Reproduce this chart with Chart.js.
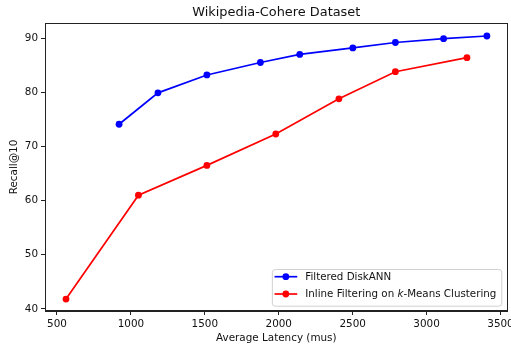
<!DOCTYPE html>
<html>
<head>
<meta charset="utf-8">
<script src="https://cdn.jsdelivr.net/npm/chart.js@4/dist/chart.umd.min.js"></script>
<style>
  html, body { margin: 0; padding: 0; background: #fff; }
  #wrap { width: 511px; height: 345px; }
</style>
</head>
<body>
<div id="wrap"><canvas id="c" width="511" height="345"></canvas></div>
<script>
const chartTitle = 'Wikipedia-Cohere Dataset';
const xTitle = 'Average Latency (mus)';
const yTitle = 'Recall@10';
const seriesNames = ['Filtered DiskANN', 'Inline Filtering on k-Means Clustering'];
const latencyDiskANN = [920, 1183, 1514, 1876, 2142, 2501, 2789, 3115, 3408];
const recallDiskANN = [74.1, 79.9, 83.2, 85.5, 87.0, 88.2, 89.2, 89.9, 90.4];
const latencyKMeans = [561, 1051, 1514, 1980, 2407, 2789, 3273];
const recallKMeans = [41.8, 61.0, 66.5, 72.3, 78.8, 83.8, 86.4];
const xTicks = [500, 1000, 1500, 2000, 2500, 3000, 3500];
const yTicks = [40, 50, 60, 70, 80, 90];

const FONT = 'DejaVu Sans';
const toPts = (xs, ys) => xs.map((x, i) => ({ x: x, y: ys[i] }));

const framePlugin = {
  id: 'frame',
  afterDraw(chart) {
    const { ctx, chartArea: a } = chart;
    ctx.save();
    ctx.strokeStyle = '#222';
    ctx.lineWidth = 1;
    ctx.strokeRect(Math.round(a.left) + 0.5, Math.round(a.top) + 0.5,
                   Math.round(a.right - a.left) - 1, Math.round(a.bottom - a.top) - 1);
    ctx.fillStyle = '#111';
    ctx.font = '12.9px "' + FONT + '"';
    ctx.textAlign = 'center';
    ctx.textBaseline = 'middle';
    ctx.fillText(chartTitle, (a.left + a.right) / 2, 12.5);
    ctx.restore();
  }
};

const legendPlugin = {
  id: 'innerLegend',
  afterDraw(chart) {
    const { ctx, chartArea: a } = chart;
    const parts = [
      [{ t: 'Filtered DiskANN' }],
      [{ t: 'Inline Filtering on ' }, { t: 'k', i: true }, { t: '-Means Clustering' }]
    ];
    ctx.save();
    const fn = '10.3px "' + FONT + '"';
    const fi = 'italic 10.3px "' + FONT + '"';
    let maxW = 0;
    parts.forEach(p => {
      let w = 0;
      p.forEach(s => { ctx.font = s.i ? fi : fn; w += ctx.measureText(s.t).width; });
      maxW = Math.max(maxW, w);
    });
    const boxW = 33.4 + maxW + 5;
    const boxH = 36.7;
    const right = a.right - 6.3, bottom = a.bottom - 5.3;
    const left = right - boxW, top = bottom - boxH;
    ctx.beginPath();
    if (ctx.roundRect) ctx.roundRect(left + 0.5, top + 0.5, boxW, boxH, 3);
    else ctx.rect(left + 0.5, top + 0.5, boxW, boxH);
    ctx.fillStyle = 'rgba(255,255,255,0.8)';
    ctx.fill();
    ctx.strokeStyle = '#d0d0d0';
    ctx.lineWidth = 1;
    ctx.stroke();
    chart.data.datasets.forEach((ds, k) => {
      const y = top + 7.7 + k * 17.3;
      ctx.strokeStyle = ds.borderColor;
      ctx.lineWidth = 1.7;
      ctx.beginPath();
      ctx.moveTo(left + 2.7, y);
      ctx.lineTo(left + 25.4, y);
      ctx.stroke();
      ctx.fillStyle = ds.backgroundColor;
      ctx.beginPath();
      ctx.arc(left + 14, y, 3.4, 0, Math.PI * 2);
      ctx.fill();
      ctx.fillStyle = '#111';
      ctx.textAlign = 'left';
      ctx.textBaseline = 'middle';
      let x = left + 33.4;
      parts[k].forEach(s => {
        ctx.font = s.i ? fi : fn;
        ctx.fillText(s.t, x, y + 0.5);
        x += ctx.measureText(s.t).width;
      });
    });
    ctx.restore();
  }
};

new Chart(document.getElementById('c'), {
  type: 'line',
  data: {
    datasets: [
      {
        label: seriesNames[0],
        data: toPts(latencyDiskANN, recallDiskANN),
        borderColor: '#0000ff', backgroundColor: '#0000ff',
        borderWidth: 1.7, pointRadius: 3.4, pointHoverRadius: 3.4, pointBorderWidth: 0,
        tension: 0
      },
      {
        label: seriesNames[1],
        data: toPts(latencyKMeans, recallKMeans),
        borderColor: '#ff0000', backgroundColor: '#ff0000',
        borderWidth: 1.7, pointRadius: 3.4, pointHoverRadius: 3.4, pointBorderWidth: 0,
        tension: 0
      }
    ]
  },
  options: {
    responsive: false,
    animation: false,
    events: [],
    layout: { padding: { top: 23, right: 2, bottom: 0, left: 0 } },
    plugins: { legend: { display: false }, title: { display: false }, tooltip: { enabled: false } },
    scales: {
      x: {
        type: 'linear', min: 419, max: 3548,
        afterBuildTicks: (s) => { s.ticks = xTicks.map(v => ({ value: v })); },
        afterFit: (s) => { s.height = 34; s.paddingLeft = 0; s.paddingRight = 0; },
        grid: { drawOnChartArea: false, drawTicks: true, tickLength: 4, color: '#222', tickWidth: 1 },
        border: { display: true, color: '#222', width: 1 },
        ticks: { color: '#111', font: { family: FONT, size: 10.4 }, padding: 3, maxRotation: 0, autoSkip: false,
                 callback: (v) => String(v) },
        title: { display: true, text: xTitle, color: '#111', font: { family: FONT, size: 10.4 }, padding: { top: 0, bottom: 0.5 } }
      },
      y: {
        type: 'linear', min: 39.6, max: 92.8,
        afterBuildTicks: (s) => { s.ticks = yTicks.map(v => ({ value: v })); },
        afterFit: (s) => { s.width = 45; s.paddingTop = 0; s.paddingBottom = 0; },
        grid: { drawOnChartArea: false, drawTicks: true, tickLength: 4, color: '#222', tickWidth: 1 },
        border: { display: true, color: '#222', width: 1 },
        ticks: { color: '#111', font: { family: FONT, size: 10.4 }, padding: 3, autoSkip: false,
                 callback: (v) => String(v) },
        title: { display: true, text: yTitle, color: '#111', font: { family: FONT, size: 10.4 }, padding: { top: 8, bottom: 0 } }
      }
    }
  },
  plugins: [framePlugin, legendPlugin]
});
</script>
</body>
</html>
